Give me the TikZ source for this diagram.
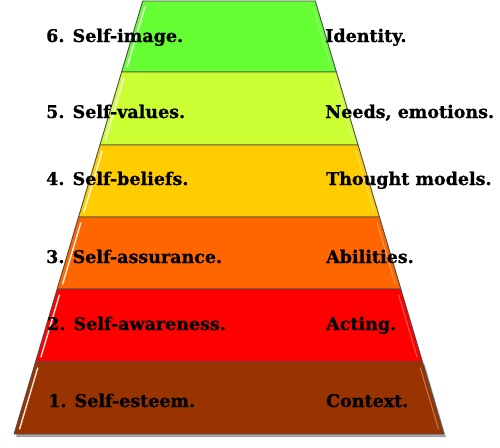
\documentclass[tikz,border=0pt]{standalone}
\usepackage{fontspec}
\setmainfont{DejaVu Serif}
\newfontfamily\lblfont{DejaVu Serif Bold}[FakeBold=0.8]
\definecolor{cSix}{HTML}{66FF33}
\definecolor{cFive}{HTML}{CCFF33}
\definecolor{cFour}{HTML}{FFCC00}
\definecolor{cThree}{HTML}{FF6600}
\definecolor{cTwo}{HTML}{FF0000}
\definecolor{cOne}{HTML}{993300}
\tikzset{
  layer/.style={draw=black!70, line width=0.9pt, line join=round},
  gloss/.style={white, line width=1.4pt, line cap=round, opacity=0.9},
  gloss2/.style={white, line width=1pt, line cap=round, opacity=0.35},
  lbl/.style={anchor=base west, inner sep=0pt, font=\lblfont\fontsize{17.5}{18}\selectfont}
}
\begin{document}
\begin{tikzpicture}[x=1pt,y=-1pt]
\useasboundingbox (0,0) rectangle (500,447);
% shadow
\fill[black!35] ({143-0.297*362+2},364) -- ({315+0.297*362+2},364) -- ({315+0.297*434+2},437) -- ({143-0.297*434+2},437) -- cycle;
\foreach \t/\b/\c in {1/72/cSix, 72/145/cFive, 145/217/cFour, 217/289/cThree, 289/362/cTwo, 362/434/cOne}{
  \draw[layer, fill=\c] ({143-0.297*\t},\t) -- ({315+0.297*\t},\t) -- ({315+0.297*\b},\b) -- ({143-0.297*\b},\b) -- cycle;
  \draw[gloss] ({143-0.297*(\t+6)+4},{\t+6}) -- ({143-0.297*(\b-5)+4},{\b-5});
  \draw[gloss2] ({315+0.297*(\t+6)-4},{\t+6}) -- ({315+0.297*(\b-5)-4},{\b-5});
}
\node[lbl] (l6) at (46,42) {6. Self-image.};
\node[lbl] (l5) at (46,118) {5. Self-values.};
\node[lbl] (l4) at (46,185) {4. Self-beliefs.};
\node[lbl] (l3) at (46,263) {3. Self-assurance.};
\node[lbl] (l2) at (47,330) {2. Self-awareness.};
\node[lbl] (l1) at (48,407) {1. Self-esteem.};
\node[lbl] (r6) at (325,42) {Identity.};
\node[lbl] (r5) at (325,118) {Needs, emotions.};
\node[lbl] (r4) at (326,185) {Thought models.};
\node[lbl] (r3) at (326,263) {Abilities.};
\node[lbl] (r2) at (326,330) {Acting.};
\node[lbl] (r1) at (326,407) {Context.};
\end{tikzpicture}
\end{document}
